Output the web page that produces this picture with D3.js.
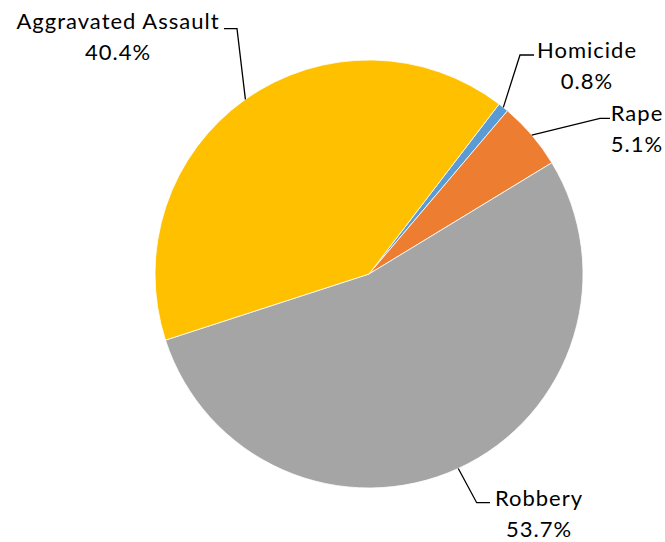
<!DOCTYPE html>
<html>
<head>
<meta charset="utf-8">
<script src="https://cdn.jsdelivr.net/npm/d3@7"></script>
<style>
  html, body { margin: 0; padding: 0; background: #fff; }
  #chart text { font-family: Lato, "Open Sans", sans-serif; fill: #000; }
</style>
</head>
<body>
<div id="chart"></div>
<script>
"use strict";

// data: share of violent crimes, in percent
var categories = ["Homicide", "Rape", "Robbery", "Aggravated Assault"];
var shares = [0.8, 5.1, 53.7, 40.4];
var colors = ["#5B9BD5", "#ED7D31", "#A5A5A5", "#FFC000"];

// where Excel put the data labels (line 1 baseline, centre x) and the leader elbow
var labelSpots = {
  "Homicide":           { x: 587, y: 58,    lx: 534, ex: 520,   ly: 55 },
  "Rape":               { x: 637, y: 120.7, lx: 610, ex: 600,   ly: 118.3 },
  "Robbery":            { x: 539, y: 506,   lx: 490, ex: 476.7, ly: 502.7 },
  "Aggravated Assault": { x: 118, y: 29.3,  lx: 224, ex: 237,   ly: 28.7 }
};

var width = 665, height = 542;
var cx = 369, cy = 274, radius = 214;
var startDeg = 37.44; // first slice starts a bit past 12 o'clock

var data = categories.map(function(c, i) {
  return { name: c, value: shares[i], color: colors[i] };
});

var svg = d3.select("#chart")
            .append("svg")
            .attr("width", width)
            .attr("height", height);

var pie = d3.pie()
            .sort(null)
            .value(function(d) { return d.value; })
            .startAngle(startDeg * Math.PI / 180)
            .endAngle(startDeg * Math.PI / 180 + 2 * Math.PI);

var arc = d3.arc().innerRadius(0).outerRadius(radius);

var g = svg.append("g")
           .attr("transform", "translate(" + cx + "," + cy + ")");

var slices = pie(data);

g.selectAll("path.slice")
 .data(slices)
 .enter()
 .append("path")
 .attr("class", "slice")
 .attr("d", arc)
 .style("fill", function(d) { return d.data.color; })
 .style("stroke", "#fff")
 .style("stroke-width", 0.8);

// leader lines: from label, to elbow, to the middle of the slice's rim
var line = d3.line();
svg.selectAll("path.leader")
   .data(slices)
   .enter()
   .append("path")
   .attr("class", "leader")
   .attr("d", function(d) {
     var s = labelSpots[d.data.name];
     var mid = (d.startAngle + d.endAngle) / 2;
     var px = cx + radius * Math.sin(mid);
     var py = cy - radius * Math.cos(mid);
     return line([[s.lx, s.ly], [s.ex, s.ly], [px, py]]);
   })
   .style("fill", "none")
   .style("stroke", "#000")
   .style("stroke-width", 1.3);

var fmt = d3.format(".1f");
var labels = svg.selectAll("text.lbl")
   .data(slices)
   .enter()
   .append("text")
   .attr("class", "lbl")
   .attr("text-anchor", "middle")
   .style("font-size", "22px")
   .style("letter-spacing", "1px")
   .attr("x", function(d) { return labelSpots[d.data.name].x; })
   .attr("y", function(d) { return labelSpots[d.data.name].y; });

labels.append("tspan")
      .attr("x", function(d) { return labelSpots[d.data.name].x; })
      .text(function(d) { return d.data.name; });

labels.append("tspan")
      .attr("x", function(d) { return labelSpots[d.data.name].x; })
      .attr("dy", 31)
      .text(function(d) { return fmt(d.data.value) + "%"; });
</script>
</body>
</html>
